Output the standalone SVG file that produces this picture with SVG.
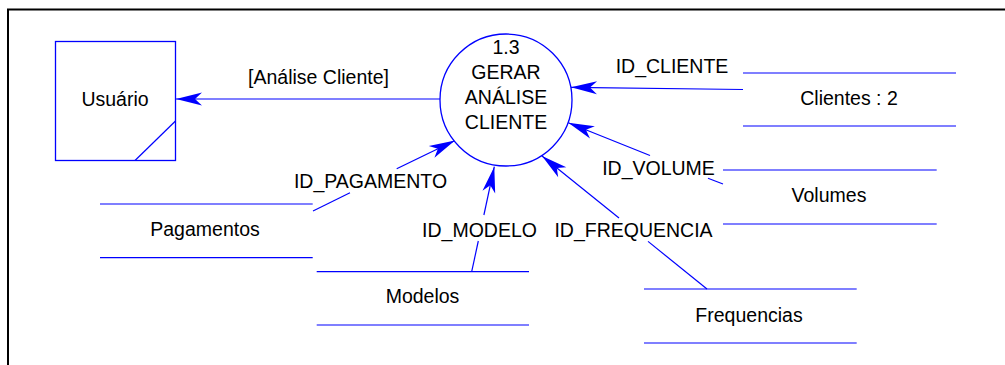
<svg xmlns="http://www.w3.org/2000/svg" width="1005" height="365" viewBox="0 0 1005 365">
  <style>
    .lbl { font-family: "Liberation Sans", Arial, sans-serif; font-size: 19.5px; fill: #000; text-anchor: middle; }
    .flow { stroke: #0000FF; stroke-width: 1.2; fill: none; }
    .store { stroke: #0000FF; stroke-width: 1.2; }
    .shape { stroke: #0000FF; stroke-width: 1.3; fill: #fff; }
    .frame { stroke: #000; stroke-width: 2; fill: none; }
  </style>
  <defs>
    <marker id="arrow" viewBox="-27 -7 28 14" refX="0" refY="0" markerWidth="28" markerHeight="14" markerUnits="userSpaceOnUse" orient="auto">
      <path d="M0,0 L-26,-6.5 L-19,0 L-26,6.5 Z" fill="#0000FF"/>
    </marker>
  </defs>

  <rect width="1005" height="365" fill="#fff"/>

  <!-- outer frame (top and left edges) -->
  <path class="frame" d="M8,366 L8,9.5 L1006,9.5"/>

  <!-- connectors -->
  <g id="connectors">
    <line class="flow" x1="440" y1="99" x2="176" y2="99" marker-end="url(#arrow)"/>
    <line class="flow" x1="743" y1="89.5" x2="571" y2="87.3" marker-end="url(#arrow)"/>
    <line class="flow" x1="723" y1="184" x2="708" y2="178.2"/>
    <line class="flow" x1="650" y1="155.5" x2="568.3" y2="122.7" marker-end="url(#arrow)"/>
    <line class="flow" x1="707" y1="289" x2="648" y2="241.4"/>
    <line class="flow" x1="619" y1="218" x2="542" y2="156" marker-end="url(#arrow)"/>
    <line class="flow" x1="471.7" y1="271.7" x2="478.3" y2="241"/>
    <line class="flow" x1="483.9" y1="215" x2="494.3" y2="166.7" marker-end="url(#arrow)"/>
    <line class="flow" x1="313" y1="211" x2="350" y2="192.7"/>
    <line class="flow" x1="396.7" y1="168.7" x2="455" y2="140.5" marker-end="url(#arrow)"/>

    <text class="lbl" x="318.5" y="83.5">[Análise Cliente]</text>
    <text class="lbl" x="672" y="72.7">ID_CLIENTE</text>
    <text class="lbl" x="658.5" y="175">ID_VOLUME</text>
    <text class="lbl" x="633.5" y="236.7">ID_FREQUENCIA</text>
    <text class="lbl" x="479.5" y="236.7">ID_MODELO</text>
    <text class="lbl" x="370.5" y="188.3">ID_PAGAMENTO</text>
  </g>

  <!-- external entity -->
  <g id="usuario">
    <rect class="shape" x="55.5" y="41.5" width="120" height="119"/>
    <line class="store" x1="135" y1="160.5" x2="175.5" y2="121"/>
    <text class="lbl" x="115" y="106">Usuário</text>
  </g>

  <!-- process -->
  <g id="processo-1-3">
    <circle class="shape" cx="506" cy="100" r="66"/>
    <text class="lbl" x="506" y="54.3">1.3</text>
    <text class="lbl" x="506" y="78.7">GERAR</text>
    <text class="lbl" x="506" y="104">ANÁLISE</text>
    <text class="lbl" x="506" y="129.3">CLIENTE</text>
  </g>

  <!-- data stores -->
  <g id="clientes">
    <line class="store" x1="743" y1="73" x2="956" y2="73"/>
    <line class="store" x1="743" y1="126" x2="956" y2="126"/>
    <text class="lbl" x="849" y="105.3">Clientes : 2</text>
  </g>

  <g id="volumes">
    <line class="store" x1="723" y1="170" x2="936.7" y2="170"/>
    <line class="store" x1="723" y1="224" x2="936.7" y2="224"/>
    <text class="lbl" x="829" y="202.3">Volumes</text>
  </g>

  <g id="frequencias">
    <line class="store" x1="644" y1="289" x2="856.7" y2="289"/>
    <line class="store" x1="644" y1="343" x2="856.7" y2="343"/>
    <text class="lbl" x="749" y="322.3">Frequencias</text>
  </g>

  <g id="modelos">
    <line class="store" x1="316.7" y1="271.7" x2="529" y2="271.7"/>
    <line class="store" x1="316.7" y1="325" x2="529" y2="325"/>
    <text class="lbl" x="422.5" y="303.3">Modelos</text>
  </g>

  <g id="pagamentos">
    <line class="store" x1="100" y1="204" x2="312.7" y2="204"/>
    <line class="store" x1="100" y1="257.7" x2="312.7" y2="257.7"/>
    <text class="lbl" x="205" y="235.7">Pagamentos</text>
  </g>
</svg>
